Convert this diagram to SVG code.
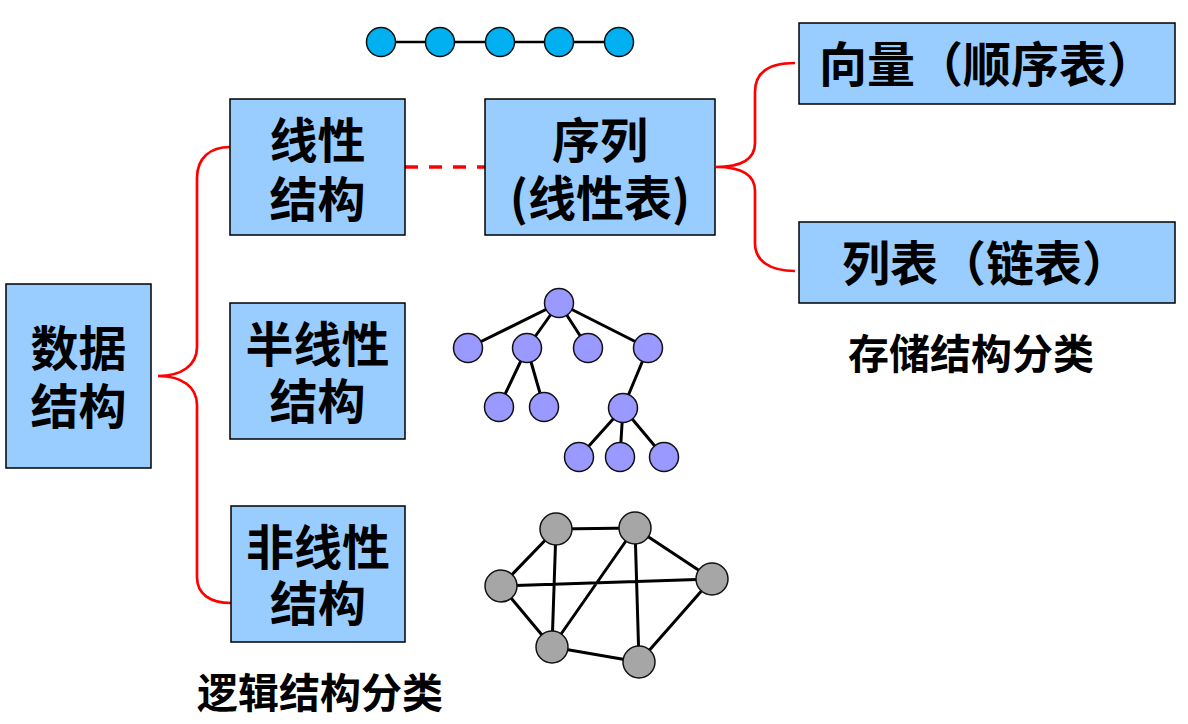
<svg xmlns="http://www.w3.org/2000/svg" width="1188" height="724" viewBox="0 0 1188 724">
<style>
.box{fill:#99CCFF;stroke:#000;stroke-width:1.5}
.t{font-family:"Noto Sans CJK SC","Liberation Sans",sans-serif;font-weight:bold;font-size:48px;fill:#000}
.m{text-anchor:middle}
.cap{font-family:"Noto Sans CJK SC","Liberation Sans",sans-serif;font-weight:bold;font-size:41px;fill:#000;text-anchor:middle}
.red{fill:none;stroke:#FF0000;stroke-width:2.7}
.dash{fill:none;stroke:#FF0000;stroke-width:3.5;stroke-dasharray:13 11}
.e{stroke:#000;stroke-width:3;fill:none}
.c1{fill:#00B0F0;stroke:#111;stroke-width:1.5}
.c2{fill:#9999FF;stroke:#111;stroke-width:1.5}
.c3{fill:#A6A6A6;stroke:#111;stroke-width:1.5}
</style>
<rect width="1188" height="724" fill="#fff"/>
<g id="connectors">
<path class="red" d="M230,147 C210,147 197,158 197,178 L197,347 C197,365 182,376 158,376 C182,376 197,387 197,405 L197,577 C197,594 210,603 231,603"/>
<path class="red" d="M795,63 C770,63 755,72 755,92 L755,143 C755,160 740,167 716,167 C740,167 755,174 755,191 L755,243 C755,261 770,271 795,271"/>
<path class="dash" d="M405,167 L485,167"/>
</g>
<g id="node-data-structure">
<rect class="box" x="6" y="284" width="145" height="184"/>
<text class="t m"><tspan x="78.5" y="365.7">数据</tspan><tspan x="78.5" y="423.7">结构</tspan></text>
</g>
<g id="node-linear">
<rect class="box" x="230" y="99" width="175" height="136"/>
<text class="t m"><tspan x="317.5" y="158.3">线性</tspan><tspan x="317.5" y="217.3">结构</tspan></text>
</g>
<g id="node-semilinear">
<rect class="box" x="230" y="303" width="175" height="136"/>
<text class="t m"><tspan x="317.5" y="361.7">半线性</tspan><tspan x="317.5" y="419.3">结构</tspan></text>
</g>
<g id="node-nonlinear">
<rect class="box" x="231" y="506" width="174" height="136"/>
<text class="t m"><tspan x="318" y="564.7">非线性</tspan><tspan x="318" y="620.7">结构</tspan></text>
</g>
<g id="node-sequence">
<rect class="box" x="485" y="99" width="230" height="136"/>
<text class="t m"><tspan x="600" y="158.3">序列</tspan><tspan x="600" y="216.3">(线性表)</tspan></text>
</g>
<g id="node-vector">
<rect class="box" x="799" y="23" width="376" height="81"/>
<text class="t" x="819" y="82.3">向量（顺序表）</text>
</g>
<g id="node-list">
<rect class="box" x="799" y="222" width="376" height="81"/>
<text class="t" x="842" y="281.3">列表（链表）</text>
</g>
<g id="label-storage">
<text class="cap" x="971" y="368.6">存储结构分类</text>
</g>
<g id="label-logical">
<text class="cap" x="320" y="707.6">逻辑结构分类</text>
</g>
<g id="illustration-linear">
<path class="e" style="stroke-width:2.5" d="M381,42 L619,42"/>
<circle class="c1" cx="381" cy="42" r="14.5"/>
<circle class="c1" cx="440" cy="42" r="14.5"/>
<circle class="c1" cx="500" cy="42" r="14.5"/>
<circle class="c1" cx="559" cy="42" r="14.5"/>
<circle class="c1" cx="619" cy="42" r="14.5"/>
</g>
<g id="illustration-tree">
<path class="e" d="M559,303 L468,348 M559,303 L527,348 M559,303 L588,348 M559,303 L648,348 M527,348 L499,407 M527,348 L544,407 M648,348 L623,408 M623,408 L579,457 M623,408 L620,457 M623,408 L664,457"/>
<circle class="c2" cx="559" cy="303" r="14.5"/>
<circle class="c2" cx="468" cy="348" r="14.5"/>
<circle class="c2" cx="527" cy="348" r="14.5"/>
<circle class="c2" cx="588" cy="348" r="14.5"/>
<circle class="c2" cx="648" cy="348" r="14.5"/>
<circle class="c2" cx="499" cy="407" r="14.5"/>
<circle class="c2" cx="544" cy="407" r="14.5"/>
<circle class="c2" cx="623" cy="408" r="14.5"/>
<circle class="c2" cx="579" cy="457" r="14.5"/>
<circle class="c2" cx="620" cy="457" r="14.5"/>
<circle class="c2" cx="664" cy="457" r="14.5"/>
</g>
<g id="illustration-graph">
<path class="e" d="M556,529 L635,528 M556,529 L501,586 M556,529 L552,647 M635,528 L552,647 M635,528 L639,662 M635,528 L712,579 M501,586 L712,579 M501,586 L552,647 M552,647 L639,662 M639,662 L712,579"/>
<circle class="c3" cx="556" cy="529" r="16"/>
<circle class="c3" cx="635" cy="528" r="16"/>
<circle class="c3" cx="501" cy="586" r="16"/>
<circle class="c3" cx="712" cy="579" r="16"/>
<circle class="c3" cx="552" cy="647" r="16"/>
<circle class="c3" cx="639" cy="662" r="16"/>
</g>
</svg>
